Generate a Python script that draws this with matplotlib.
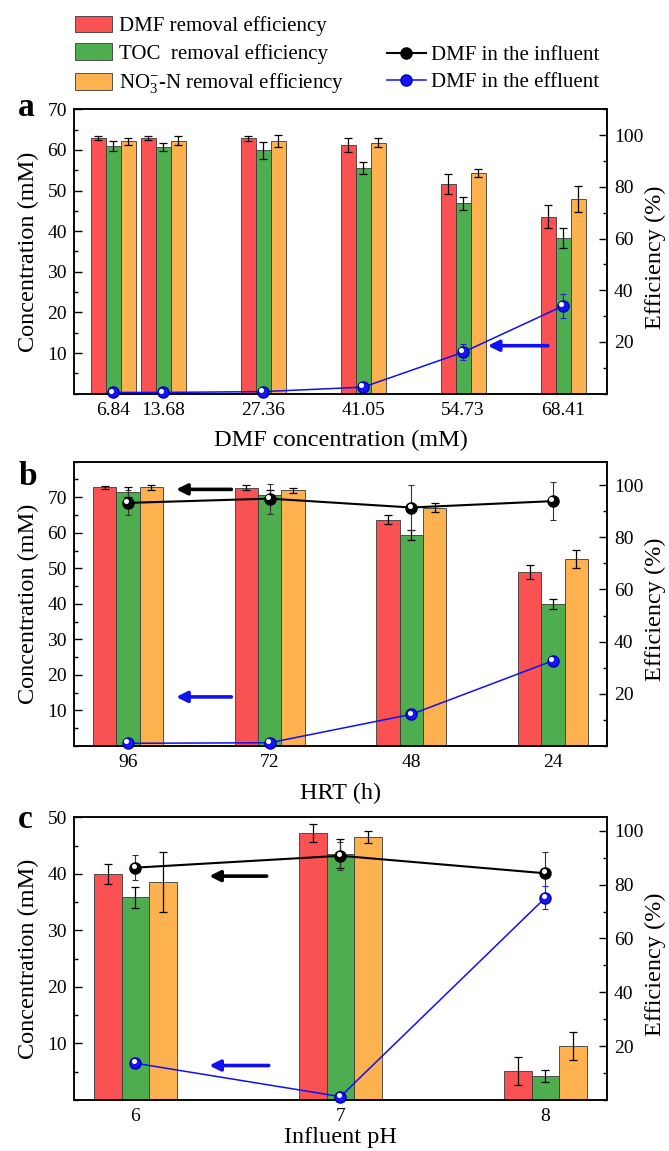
import matplotlib
matplotlib.use('Agg')
import matplotlib.pyplot as plt
from matplotlib.ticker import MultipleLocator, FixedLocator
from matplotlib.transforms import offset_copy
from matplotlib.lines import Line2D
import numpy as np

plt.rcParams['font.family'] = ['Liberation Serif', 'DejaVu Serif']
plt.rcParams['mathtext.fontset'] = 'custom'
plt.rcParams['mathtext.rm'] = 'Liberation Serif'
plt.rcParams['mathtext.it'] = 'Liberation Serif:italic'

# ---------------- data ----------------
# panel a : DMF concentration
conc_a = [6.84, 13.68, 27.36, 41.05, 54.73, 68.41]
dmf_eff_a = [99.0, 99.0, 98.8, 96.3, 81.2, 68.4]
dmf_err_a = [0.8, 0.8, 0.9, 2.7, 3.9, 4.4]
toc_eff_a = [95.9, 95.4, 94.1, 87.2, 73.6, 60.1]
toc_err_a = [2.0, 1.7, 3.3, 2.3, 2.6, 3.9]
no3_eff_a = [97.6, 97.9, 97.7, 97.1, 85.4, 75.2]
no3_err_a = [1.5, 1.7, 2.2, 1.7, 1.7, 5.0]
effl_a = [0.3, 0.3, 0.5, 1.6, 10.2, 21.6]
effl_err_a = [0.2, 0.2, 0.2, 0.4, 2.0, 2.9]

# panel b : HRT
hrt_labels = ['96', '72', '48', '24']
dmf_eff_b = [99.2, 99.0, 86.7, 66.6]
dmf_err_b = [0.6, 1.0, 1.7, 2.6]
toc_eff_b = [97.2, 96.3, 81.0, 54.3]
toc_err_b = [1.9, 2.0, 1.9, 1.9]
no3_eff_b = [99.1, 98.0, 91.4, 71.7]
no3_err_b = [0.8, 1.0, 1.7, 3.6]
infl_b = [68.4, 69.6, 67.1, 68.9]
infl_err_b = [3.5, 4.2, 6.4, 5.4]
effl_b = [0.75, 0.9, 8.9, 24.0]
effl_err_b = [0.2, 0.2, 0.5, 0.8]

# panel c : influent pH
ph = [6, 7, 8]
dmf_eff_c = [84.0, 99.3, 10.7]
dmf_err_c = [3.6, 3.3, 5.1]
toc_eff_c = [75.3, 91.5, 8.9]
toc_err_c = [4.0, 5.5, 2.1]
no3_eff_c = [81.0, 97.8, 20.0]
no3_err_c = [11.1, 2.2, 5.1]
infl_c = [41.1, 43.2, 40.1]
infl_err_c = [2.2, 2.5, 3.8]
effl_c = [6.5, 0.6, 35.8]
effl_err_c = [0.4, 0.5, 2.1]

bar_labels = ['DMF removal efficiency', 'TOC  removal efficiency',
              r'NO$_3^{-}$-N removal efficiency']
line_labels = ['DMF in the influent', 'DMF in the effluent']

RED = '#FA5252'
GREEN = '#4EAD4E'
ORANGE = '#FDB14F'
BAR_COLORS = [RED, GREEN, ORANGE]

TICK_FS = 14
LABEL_FS = 17.5
RLABEL_FS = 17.5

fig = plt.figure(figsize=(6.69, 11.51), dpi=100)


def style_axes(ax1, ax2, left_major, left_minor, right_major, right_minor):
    for ax in (ax1, ax2):
        for s in ax.spines.values():
            s.set_linewidth(1.1)
    ax1.yaxis.set_major_locator(left_major)
    ax1.yaxis.set_minor_locator(left_minor)
    ax2.yaxis.set_major_locator(right_major)
    ax2.yaxis.set_minor_locator(right_minor)
    ax1.tick_params(axis='y', which='major', direction='in', length=5.5, width=1,
                    labelsize=TICK_FS, pad=5, right=False)
    ax1.tick_params(axis='y', which='minor', direction='in', length=3, width=1, right=False)
    ax2.tick_params(axis='y', which='major', direction='in', length=5.5, width=1,
                    labelsize=TICK_FS, pad=5, left=False)
    ax2.tick_params(axis='y', which='minor', direction='in', length=3, width=1, left=False)
    ax1.tick_params(axis='x', which='both', length=0, labelsize=TICK_FS, pad=6, top=False)
    ax2.tick_params(axis='x', which='both', length=0, top=False)


def draw_panel(rect, x, width, effs, errs, infl, infl_err, effl, effl_err,
               xlim, ylim_l, ylim_r, locs, xlabel, xticklabels, xlabelpad):
    ax1 = fig.add_axes(rect)
    ax2 = ax1.twinx()
    ax1.set_zorder(3)
    ax2.set_zorder(2)
    ax1.patch.set_visible(False)
    x = np.asarray(x, dtype=float)
    bars = []
    for i, (v, e, c) in enumerate(zip(effs, errs, BAR_COLORS)):
        b = ax2.bar(x + (i - 1) * width, v, width, yerr=e, color=c,
                    edgecolor='#3a3a3a', linewidth=0.6,
                    error_kw=dict(ecolor='black', elinewidth=0.9, capsize=2.6, capthick=0.9))
        bars.append(b)
    hl = dict(fig=fig, x=-1.3, y=1.3, units='points')
    if infl is not None:
        ax1.errorbar(x, infl, yerr=infl_err, color='black', lw=1.5, marker='o', ms=8,
                     mfc='black', mec='black', ecolor='#333333', elinewidth=0.8,
                     capsize=2.5, capthick=0.8, zorder=4)
        ax1.plot(x, infl, 'o', ms=2.6, color='white', zorder=5,
                 transform=offset_copy(ax1.transData, **hl))
    ax1.errorbar(x, effl, yerr=effl_err, color='#1010F0', lw=1.1, marker='o', ms=8,
                 mfc='#1515F5', mec='#0000B0', ecolor='#2222CC', elinewidth=0.8,
                 capsize=2.5, capthick=0.8, zorder=4, clip_on=False)
    ax1.plot(x, effl, 'o', ms=2.6, color='white', zorder=5, clip_on=False,
             transform=offset_copy(ax1.transData, **hl))
    ax1.set_xlim(*xlim)
    ax1.set_ylim(*ylim_l)
    ax2.set_ylim(*ylim_r)
    style_axes(ax1, ax2, *locs)
    ax1.set_xticks(x)
    ax1.set_xticklabels(xticklabels)
    ax1.set_xlabel(xlabel, fontsize=LABEL_FS, labelpad=xlabelpad)
    ax1.set_ylabel('Concentration (mM)', fontsize=LABEL_FS, labelpad=6)
    ax2.set_ylabel('Efficiency (%)', fontsize=RLABEL_FS)
    ax2.yaxis.set_label_coords(1.0705, 0.48)
    return ax1, ax2, bars


def arrow(ax, x0, x1, y, color):
    ax.annotate('', xy=(x1, y), xytext=(x0, y),
                arrowprops=dict(arrowstyle='-|>', color=color, lw=2.6,
                                mutation_scale=16, shrinkA=0, shrinkB=0), zorder=6)


L, W = 0.1106, 0.7967

# panel a
ax1a, ax2a, bars = draw_panel(
    [L, 0.6580, W, 0.2470], conc_a, 2.05,
    [dmf_eff_a, toc_eff_a, no3_eff_a], [dmf_err_a, toc_err_a, no3_err_a],
    None, None, effl_a, effl_err_a,
    (1.5, 74.4), (0, 70), (0, 110),
    (FixedLocator([10, 20, 30, 40, 50, 60, 70]), MultipleLocator(5),
     FixedLocator([20, 40, 60, 80, 100]), MultipleLocator(10)),
    'DMF concentration (mM)',
    ['6.84', '13.68', '27.36', '41.05', '54.73', '68.41'], 8)
arrow(ax1a, 66.3, 58.1, 11.8, '#1010F0')

# panel b
ax1b, ax2b, _ = draw_panel(
    [L, 0.3519, W, 0.2470], np.arange(len(hrt_labels)), 0.165,
    [dmf_eff_b, toc_eff_b, no3_eff_b], [dmf_err_b, toc_err_b, no3_err_b],
    infl_b, infl_err_b, effl_b, effl_err_b,
    (-0.381, 3.381), (0, 80), (0, 109),
    (FixedLocator([10, 20, 30, 40, 50, 60, 70]), MultipleLocator(5),
     FixedLocator([20, 40, 60, 80, 100]), MultipleLocator(10)),
    'HRT (h)', hrt_labels, 8)
arrow(ax1b, 0.73, 0.34, 72.2, 'black')
arrow(ax1b, 0.73, 0.34, 13.8, '#1010F0')

# panel c
ax1c, ax2c, _ = draw_panel(
    [L, 0.0443, W, 0.2456], ph, 0.134,
    [dmf_eff_c, toc_eff_c, no3_eff_c], [dmf_err_c, toc_err_c, no3_err_c],
    infl_c, infl_err_c, effl_c, effl_err_c,
    (5.7, 8.3), (0, 50), (0, 105),
    (FixedLocator([10, 20, 30, 40, 50]), MultipleLocator(5),
     FixedLocator([20, 40, 60, 80, 100]), MultipleLocator(10)),
    'Influent pH', [str(p) for p in ph], 1.5)
arrow(ax1c, 6.64, 6.36, 39.6, 'black')
arrow(ax1c, 6.65, 6.36, 6.1, '#1010F0')

# panel letters
for txt, yy in (('a', 0.8992), ('b', 0.5786), ('c', 0.2806)):
    fig.text(0.027, yy, txt, fontsize=24, fontweight='bold', ha='left', va='baseline')

# legends
leg1 = fig.legend(bars, bar_labels, loc='upper left', bbox_to_anchor=(0.112, 0.9865),
                  frameon=False, fontsize=15, handlelength=1.8, handleheight=0.87,
                  handletextpad=0.3, labelspacing=0.35, borderpad=0, borderaxespad=0)
proxies = [Line2D([], [], color='black', lw=1.5, marker='o', ms=8, mfc='black'),
           Line2D([], [], color='#1010F0', lw=1.1, marker='o', ms=8, mfc='#1515F5', mec='#0000B0')]
leg2 = fig.legend(proxies, line_labels, loc='upper left', bbox_to_anchor=(0.578, 0.9603),
                  frameon=False, fontsize=15, handlelength=1.9, handletextpad=0.25,
                  labelspacing=0.35, borderpad=0, borderaxespad=0)

fig.savefig('out.png', dpi=100)
